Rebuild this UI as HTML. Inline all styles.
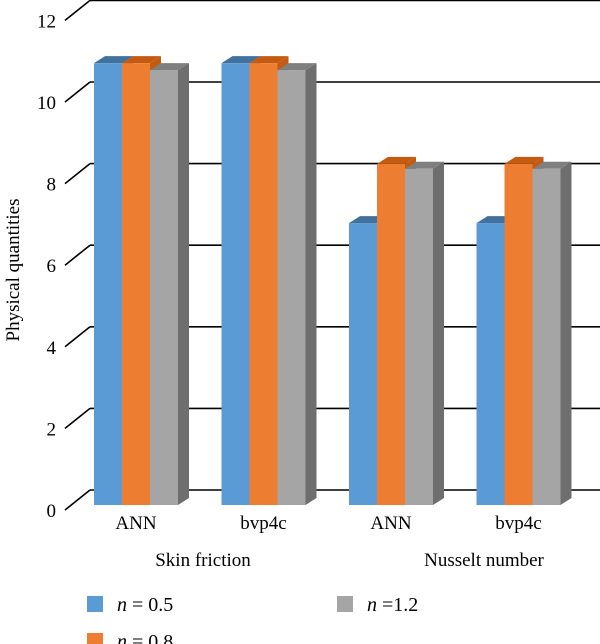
<!DOCTYPE html>
<html><head><meta charset="utf-8"><style>
body{margin:0;background:#fff}
svg{display:block;font-family:"Liberation Serif",serif}
</style></head><body>
<svg id="c" width="600" height="644"></svg>
<script>
const categories=["ANN","bvp4c","ANN","bvp4c"];
const groups=["Skin friction","Nusselt number"];
const seriesNames=["0.5","0.8","=1.2"];
const s05=[10.83,10.83,6.91,6.91];
const s08=[10.83,10.83,8.36,8.36];
const s12=[10.66,10.66,8.24,8.24];
const yTicks=[0,2,4,6,8,10,12];
const svg=document.getElementById('c');
const NS='http://www.w3.org/2000/svg';
function mk(t,a,p){const e=document.createElementNS(NS,t);for(const k in a)e.setAttribute(k,a[k]);(p||svg).appendChild(e);return e;}
const k=40.8;
const yBack=v=>490-v*k, yFront=v=>505-v*k;
const groupX=i=>94+i*127.5;
const bw=28, dx=11, dy=7;
const gAx=mk('g',{});


yTicks.forEach(v=>{
  const y=yBack(v);
  const l=mk('line',{x1:90,y1:y,x2:600,y2:y,stroke:'#000','stroke-width':1.6},gAx);
  
  
  const d=mk('line',{x1:65,y1:y+20,x2:90,y2:y,stroke:'#000','stroke-width':1.6},gAx);
  
  
  const t=mk('text',{x:56,y:y+27,'text-anchor':'end','font-size':19},gAx);
  t.textContent=v;
  
  
});
const series=[[s05,'#5b9bd5','#41719c','#41719c'],[s08,'#ed7d31','#c55a11','#c55a11'],[s12,'#a5a5a5','#7f7f7f','#6e6e6e']];
categories.forEach((c,i)=>{
  const g=mk('g',{});
  
  
  series.forEach((s,j)=>{
    const v=s[0][i];
    const x=groupX(i)+j*bw, y=yFront(v), b=yFront(0);
    const side=mk('polygon',{points:`${x+bw},${y} ${x+bw+dx},${y-dy} ${x+bw+dx},${b-dy} ${x+bw},${b}`,fill:s[3]},g);
    
    
    const top=mk('polygon',{points:`${x},${y} ${x+dx},${y-dy} ${x+bw+dx},${y-dy} ${x+bw},${y}`,fill:s[2]},g);
    
    
    const r=mk('rect',{x:x,y:y,width:bw,height:b-y,fill:s[1]},g);
    
    
  });
  const t=mk('text',{x:groupX(i)+42,y:529,'text-anchor':'middle','font-size':19});
  t.textContent=c;
  
  
});
groups.forEach((gname,i)=>{
  const t=mk('text',{x:203+i*281,y:566,'text-anchor':'middle','font-size':19});
  t.textContent=gname;
  
  
});
const yt=mk('text',{x:0,y:0,transform:'translate(19,270) rotate(-90)','text-anchor':'middle','font-size':19});
yt.textContent='Physical quantities';


const legPos=[[87,596],[87,633],[337,596]];
series.forEach((s,j)=>{
  const g=mk('g',{});
  
  
  const [lx,ly]=legPos[j];
  mk('rect',{x:lx,y:ly,width:16,height:16,fill:s[1]},g);
  const t=mk('text',{x:lx+30,y:ly+15,'font-size':20},g);
  const it=mk('tspan',{'font-style':'italic'},t); it.textContent='n';
  const rest=mk('tspan',{},t); rest.textContent=j<2?' = '+seriesNames[j]:' '+seriesNames[j];
});
</script>
</body></html>
